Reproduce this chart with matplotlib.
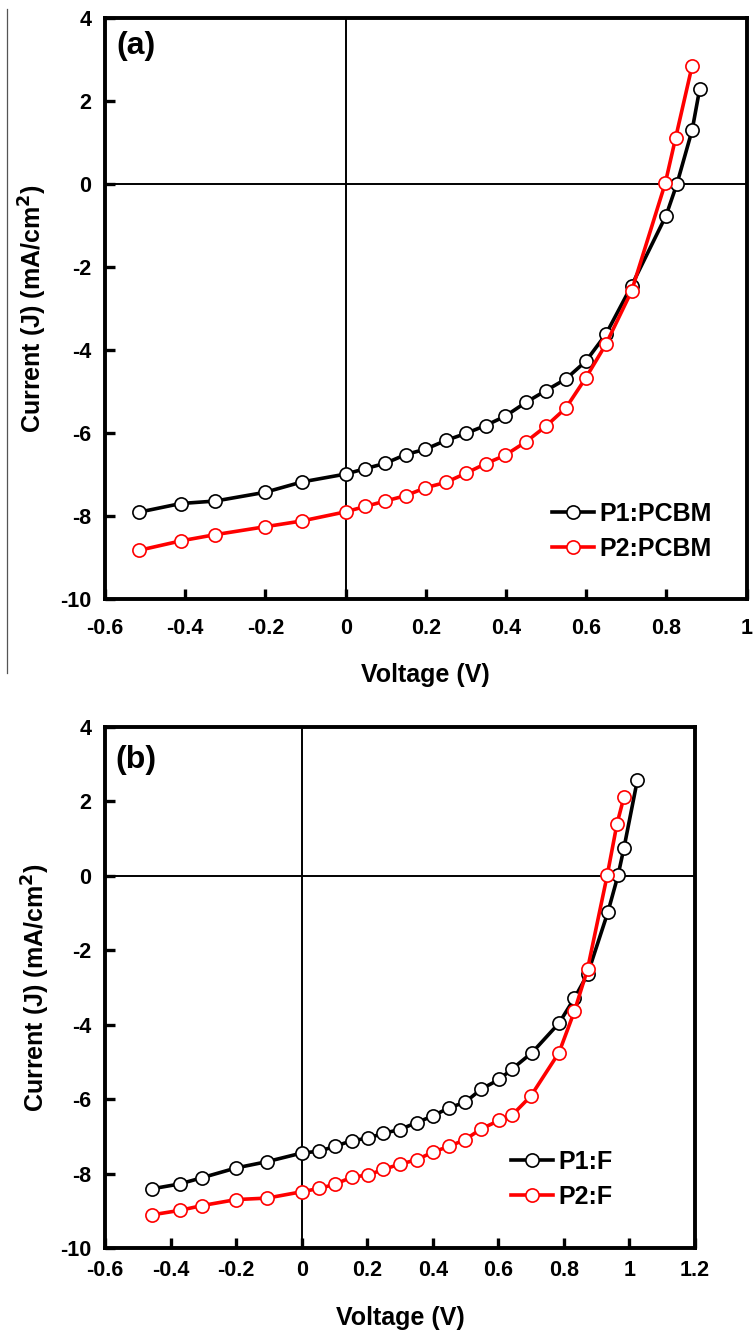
import matplotlib.pyplot as plt
from matplotlib.lines import Line2D

plt.rcParams['font.family'] = ['Liberation Sans', 'DejaVu Sans']
plt.rcParams['font.weight'] = 'bold'
plt.rcParams['mathtext.default'] = 'bf'

# =========================
# DATA (a) PCBM
# =========================

v_p1_pcbm = [-0.516, -0.411, -0.325, -0.201, -0.109, 0.0, 0.049, 0.099, 0.150, 0.199,
             0.250, 0.300, 0.349, 0.397, 0.450, 0.499, 0.549, 0.599, 0.649, 0.713,
             0.799, 0.826, 0.864, 0.883]
j_p1_pcbm = [-7.91, -7.70, -7.64, -7.43, -7.18, -6.99, -6.86, -6.73, -6.52, -6.39,
             -6.18, -6.01, -5.82, -5.60, -5.26, -4.98, -4.70, -4.27, -3.62, -2.45,
             -0.76, 0.0, 1.30, 2.30]

v_p2_pcbm = [-0.516, -0.411, -0.325, -0.201, -0.109, 0.0, 0.049, 0.099, 0.150, 0.199,
             0.250, 0.300, 0.349, 0.397, 0.450, 0.499, 0.549, 0.599, 0.649, 0.713,
             0.797, 0.823, 0.864]
j_p2_pcbm = [-8.83, -8.60, -8.45, -8.26, -8.12, -7.90, -7.77, -7.64, -7.51, -7.32,
             -7.19, -6.97, -6.74, -6.54, -6.21, -5.84, -5.40, -4.67, -3.86, -2.58,
             0.02, 1.12, 2.85]

# =========================
# DATA (b) F
# =========================

v_p1_f = [-0.456, -0.372, -0.303, -0.200, -0.105, 0.0, 0.054, 0.101, 0.152, 0.202,
          0.249, 0.299, 0.351, 0.401, 0.450, 0.498, 0.548, 0.603, 0.642, 0.703,
          0.785, 0.832, 0.872, 0.934, 0.965, 0.983, 1.024]
j_p1_f = [-8.41, -8.28, -8.11, -7.85, -7.68, -7.45, -7.40, -7.27, -7.12, -7.05,
          -6.92, -6.82, -6.63, -6.45, -6.23, -6.09, -5.73, -5.47, -5.19, -4.75,
          -3.96, -3.29, -2.65, -0.98, 0.01, 0.74, 2.57]

v_p2_f = [-0.456, -0.372, -0.303, -0.200, -0.105, 0.0, 0.054, 0.101, 0.152, 0.202,
          0.249, 0.299, 0.351, 0.401, 0.450, 0.498, 0.548, 0.603, 0.642, 0.699,
          0.785, 0.832, 0.872, 0.932, 0.962, 0.983]
j_p2_f = [-9.11, -8.99, -8.86, -8.70, -8.66, -8.49, -8.40, -8.29, -8.10, -8.04,
          -7.89, -7.75, -7.63, -7.42, -7.27, -7.09, -6.80, -6.57, -6.43, -5.92,
          -4.75, -3.64, -2.51, 0.01, 1.40, 2.11]

xticks_a = [-0.6, -0.4, -0.2, 0, 0.2, 0.4, 0.6, 0.8, 1]
xticks_b = [-0.6, -0.4, -0.2, 0, 0.2, 0.4, 0.6, 0.8, 1, 1.2]
yticks = [-10, -8, -6, -4, -2, 0, 2, 4]


def fmt(v):
    if abs(v) < 1e-9:
        return '0'
    s = ('%.1f' % v)
    if s.endswith('.0'):
        s = s[:-2]
    return s


def draw_panel(ax, v1, j1, v2, j2, lab1, lab2, xticks, xmax, tag,
               leg_pos, xpad, xlab_y, ylab_x, tag_y):
    ax.axhline(0, color='black', lw=1.4, zorder=1)
    ax.axvline(0, color='black', lw=1.4, zorder=1)

    ax.plot(v1, j1, color='black', lw=2.6, marker='o', ms=9.5,
            mfc='white', mec='black', mew=1.2, label=lab1, zorder=3)
    ax.plot(v2, j2, color='red', lw=2.6, marker='o', ms=9.5,
            mfc='white', mec='red', mew=1.2, label=lab2, zorder=3)

    ax.set_xlim(-0.6, xmax)
    ax.set_ylim(-10, 4)
    ax.set_xticks(xticks)
    ax.set_xticklabels([fmt(t) for t in xticks])
    ax.set_yticks(yticks)
    ax.set_yticklabels([fmt(t) for t in yticks])

    ax.tick_params(direction='in', length=7, width=2.4, labelsize=15.5,
                   top=False, right=False)
    ax.tick_params(axis='x', pad=xpad)
    ax.tick_params(axis='y', pad=10)
    for sp in ax.spines.values():
        sp.set_linewidth(2.8)

    ax.set_xlabel('Voltage (V)', fontsize=18, fontweight='bold')
    ax.xaxis.label.set_va('center')
    ax.xaxis.set_label_coords(0.5, xlab_y)
    ax.set_ylabel('Current (J) (mA/cm$^{2}$)', fontsize=18, fontweight='bold')
    ax.yaxis.label.set_va('center')
    ax.yaxis.set_label_coords(ylab_x, 0.5)

    ax.text(0.017, tag_y, tag, transform=ax.transAxes, fontsize=23,
            fontweight='bold', va='top', ha='left')

    leg = ax.legend(loc='lower right', bbox_to_anchor=leg_pos, frameon=False,
                    fontsize=18, handlelength=1.7, handletextpad=0.2,
                    labelspacing=0.45, borderaxespad=0, borderpad=0)
    for t in leg.get_texts():
        t.set_fontweight('bold')


fig = plt.figure(figsize=(7.54, 13.34), dpi=100)

ax1 = fig.add_axes([0.1393, 0.551, 0.851, 0.4355])
draw_panel(ax1, v_p1_pcbm, j_p1_pcbm, v_p2_pcbm, j_p2_pcbm,
           'P1:PCBM', 'P2:PCBM', xticks_a, 1.0, '(a)', (0.945, 0.065),
           14, -0.131, -0.113, 0.978)

ax2 = fig.add_axes([0.1393, 0.0645, 0.7825, 0.3906])
draw_panel(ax2, v_p1_f, j_p1_f, v_p2_f, j_p2_f,
           'P1:F', 'P2:F', xticks_b, 1.2, '(b)', (0.86, 0.075),
           9, -0.134, -0.117, 0.965)

# thin border line at left of the upper panel
fig.add_artist(Line2D([0.0097, 0.0097], [1 - 9 / 1334, 1 - 673 / 1334],
                      transform=fig.transFigure, color='#555555', lw=0.9))

fig.savefig('out.png', dpi=100)
